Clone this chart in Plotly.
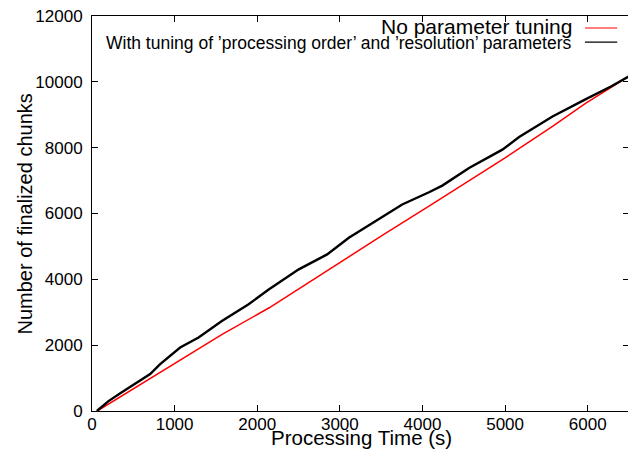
import plotly.graph_objects as go

# Data
red_t = [64, 731, 994, 1580, 2145, 2867, 3513, 4079, 4967, 5574, 5978, 6500]
red_n = [0, 1021, 1424, 2333, 3136, 4303, 5333, 6222, 7636, 8645, 9354, 10170]

black_t = [58, 200, 361, 550, 704, 825, 950, 1067, 1290, 1572, 1896, 2139,
           2503, 2846, 3109, 3432, 3755, 4079, 4240, 4564, 4967, 5170, 5574,
           5978, 6281, 6500]
black_n = [0, 300, 567, 870, 1121, 1424, 1700, 1930, 2233, 2737, 3242, 3690,
           4303, 4758, 5263, 5767, 6273, 6646, 6848, 7384, 7939, 8324, 8948,
           9476, 9858, 10170]

x_ticks = [0, 1000, 2000, 3000, 4000, 5000, 6000]
x_tick_text = ["0", "1000", "2000", "3000", "4000", "5000", "6000"]
y_ticks = [0, 2000, 4000, 6000, 8000, 10000, 12000]
y_tick_text = ["0", "2000", "4000", "6000", "8000", "10000", "12000"]

x_title = "Processing Time (s)"
y_title = "Number of finalized chunks"
label_red = "No parameter tuning"
label_black = "With tuning of \u2019processing order\u2019 and \u2019resolution\u2019 parameters"

FONT = "Liberation Sans, Arial, Helvetica, sans-serif"

fig = go.Figure()
fig.add_trace(go.Scatter(x=red_t, y=red_n, mode="lines", name=label_red,
                         line=dict(color="#ff0000", width=1.5), showlegend=False))
fig.add_trace(go.Scatter(x=black_t, y=black_n, mode="lines", name=label_black,
                         line=dict(color="#000000", width=2.4), showlegend=False))

axis_common = dict(showline=True, linecolor="black", linewidth=1, mirror="ticks",
                   ticks="inside", ticklen=6, tickcolor="black", showgrid=False,
                   zeroline=False, automargin=False, ticklabeloverflow="allow",
                   tickfont=dict(size=17, color="black", family=FONT))

fig.update_xaxes(range=[0, 6500], tickvals=x_ticks, ticktext=x_tick_text,
                 ticklabelstandoff=-2, **axis_common)
fig.update_yaxes(range=[0, 12000], tickvals=y_ticks, ticktext=y_tick_text,
                 ticklabelstandoff=5, **axis_common)

# axis titles
fig.add_annotation(xref="paper", yref="paper", x=0.502, y=-0.068, text=x_title,
                   showarrow=False, xanchor="center", yanchor="middle",
                   font=dict(size=20.5, color="black", family=FONT))
fig.add_annotation(xref="paper", yref="paper", x=-0.1248, y=0.5, text=y_title,
                   textangle=-90, showarrow=False, xanchor="center", yanchor="middle",
                   font=dict(size=20, color="black", family=FONT))

# gnuplot-style key: text right-aligned, sample line on the right
fig.add_annotation(xref="paper", yref="paper", x=0.8976, y=0.973, text=label_red,
                   showarrow=False, xanchor="right", yanchor="middle",
                   font=dict(size=21, color="black", family=FONT))
fig.add_annotation(xref="paper", yref="paper", x=0.8976, y=0.932, text=label_black,
                   showarrow=False, xanchor="right", yanchor="middle",
                   font=dict(size=17.5, color="black", family=FONT))
fig.add_shape(type="line", xref="paper", yref="paper", x0=0.918, x1=0.978, y0=0.9696, y1=0.9696,
              line=dict(color="#ff0000", width=1.2))
fig.add_shape(type="line", xref="paper", yref="paper", x0=0.918, x1=0.978, y0=0.934, y1=0.934,
              line=dict(color="#000000", width=1.2))

# page body has an 8px margin: size the figure so the plot lands where the reference has it
fig.update_layout(width=628, height=447, margin=dict(l=84, r=7, t=8, b=44),
                  plot_bgcolor="white", paper_bgcolor="white",
                  font=dict(family=FONT, color="black"))

fig.write_html("out.html")
